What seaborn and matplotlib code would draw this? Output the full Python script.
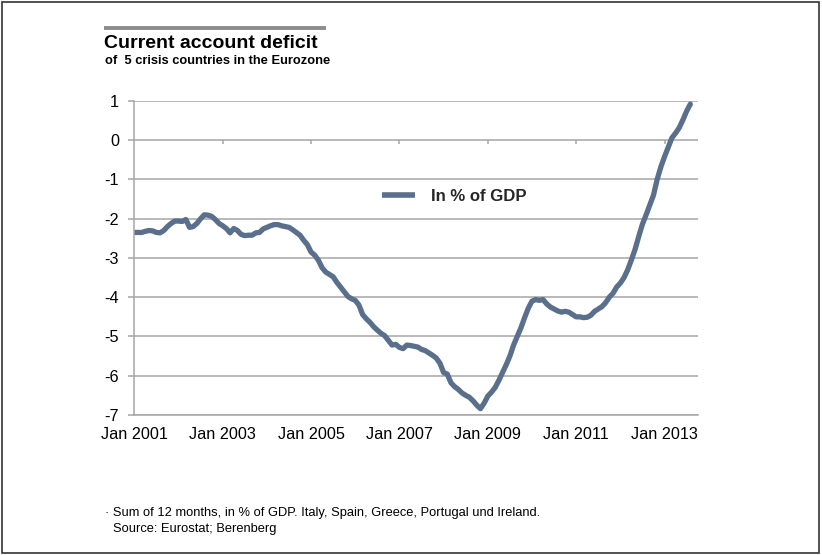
import numpy as np
import pandas as pd
import matplotlib
matplotlib.use("Agg")
import matplotlib.pyplot as plt
from matplotlib.lines import Line2D
from matplotlib.patches import Rectangle
import seaborn as sns

# Monthly current account balance, sum of 12 months, in % of GDP (Jan 2001 onwards)
balance = [
    -2.35, -2.35, -2.35, -2.32, -2.30, -2.31, -2.35, -2.36, -2.30, -2.20, -2.12, -2.06,
    -2.06, -2.07, -2.02, -2.22, -2.20, -2.12, -2.00, -1.90, -1.91, -1.94, -2.02, -2.12,
    -2.18, -2.25, -2.36, -2.25, -2.30, -2.40, -2.43, -2.42, -2.42, -2.36, -2.35, -2.26,
    -2.22, -2.18, -2.15, -2.15, -2.18, -2.20, -2.22, -2.28, -2.35, -2.42, -2.55, -2.66,
    -2.85, -2.93, -3.06, -3.25, -3.36, -3.42, -3.48, -3.62, -3.74, -3.86, -3.98, -4.04,
    -4.08, -4.20, -4.44, -4.55, -4.64, -4.75, -4.84, -4.92, -4.98, -5.10, -5.22, -5.20,
    -5.28, -5.31, -5.22, -5.23, -5.25, -5.27, -5.33, -5.36, -5.42, -5.48, -5.55, -5.68,
    -5.92, -5.96, -6.18, -6.28, -6.35, -6.44, -6.50, -6.55, -6.64, -6.75, -6.84, -6.70,
    -6.52, -6.42, -6.30, -6.12, -5.92, -5.72, -5.50, -5.22, -5.00, -4.78, -4.52, -4.28,
    -4.10, -4.06, -4.08, -4.06, -4.17, -4.25, -4.30, -4.35, -4.38, -4.36, -4.38, -4.44,
    -4.50, -4.50, -4.52, -4.51, -4.46, -4.36, -4.30, -4.24, -4.14, -4.00, -3.90, -3.74,
    -3.64, -3.50, -3.30, -3.05, -2.78, -2.45, -2.14, -1.90, -1.65, -1.40, -1.00, -0.68,
    -0.42, -0.18, 0.06, 0.18, 0.32, 0.52, 0.74, 0.92,
]
months = list(range(len(balance)))  # months since Jan 2001

x_tick_months = [0, 24, 48, 72, 96, 120, 144]
x_tick_labels = ["Jan 2001", "Jan 2003", "Jan 2005", "Jan 2007",
                 "Jan 2009", "Jan 2011", "Jan 2013"]
y_ticks = [-7, -6, -5, -4, -3, -2, -1, 0, 1]

series_name = "In % of GDP"
df = pd.DataFrame({"month": months, "value": balance, "series": series_name})

sns.set_theme(style="white")
plt.rcParams["font.family"] = ["Liberation Sans", "DejaVu Sans"]

LINE = "#596F8B"
GRID = "#A6A6A6"

fig = plt.figure(figsize=(8.22, 5.55), dpi=100)
fig.patch.set_facecolor("white")
ax = fig.add_axes([0.1634, 0.2523, 0.6858, 0.5658])
ax.set_facecolor("white")

sns.lineplot(data=df, x="month", y="value", hue="series", palette=[LINE],
             linewidth=3.8, ax=ax, legend=True)
for ln in ax.lines:
    ln.set_solid_capstyle("round")
    ln.set_solid_joinstyle("round")

ax.set_xlim(0, 153.1)
ax.set_ylim(-7, 1)
ax.set_yticks(y_ticks)
ax.set_yticklabels([str(v) for v in y_ticks])
ax.set_xticks(x_tick_months)
ax.set_xticklabels(x_tick_labels)
ax.set_xlabel("")
ax.set_ylabel("")

# horizontal gridlines
ax.yaxis.grid(True, color=GRID, linewidth=1.1)
ax.xaxis.grid(False)
ax.set_axisbelow(True)

for side in ["top", "right"]:
    ax.spines[side].set_visible(False)
for side in ["left", "bottom"]:
    ax.spines[side].set_color(GRID)
    ax.spines[side].set_linewidth(1.1)

ax.tick_params(axis="y", which="major", left=True, length=4, width=1.1,
               color=GRID, pad=7, labelsize=11.7, labelcolor="black")
ax.tick_params(axis="x", which="major", bottom=False, length=0,
               pad=9, labelsize=11.7, labelcolor="black")

# category tick marks sit on the zero line
ax.vlines(x_tick_months[1:], -0.09, 0, color=GRID, linewidth=1.1, zorder=1)

leg = ax.legend(loc="center left", bbox_to_anchor=(0.439, 0.697), frameon=False,
                borderpad=0, borderaxespad=0, handlelength=2.0, handletextpad=0.9,
                prop={"size": 12.1, "weight": "bold"})
for h in leg.legend_handles:
    h.set_linewidth(4.0)
    h.set_solid_capstyle("butt")

# title block
fig.add_artist(Line2D([104 / 822, 326 / 822], [1 - 28 / 555, 1 - 28 / 555],
                      color="#8C8C8C", linewidth=2.8, solid_capstyle="butt"))
fig.text(104 / 822, 1 - 47.7 / 555, "Current account deficit", fontsize=14,
         fontweight="bold", va="baseline", ha="left", color="black")
fig.text(104.5 / 822, 1 - 64.3 / 555, "of  5 crisis countries in the Eurozone",
         fontsize=9.3, fontweight="bold", va="baseline", ha="left", color="black")

# footnote
fig.text(105 / 822, 1 - 516 / 555,
         "\u00b7 Sum of 12 months, in % of GDP. Italy, Spain, Greece, Portugal und Ireland.",
         fontsize=9.3, va="baseline", ha="left", color="black")
fig.text(113 / 822, 1 - 531.7 / 555, "Source: Eurostat; Berenberg",
         fontsize=9.3, va="baseline", ha="left", color="black")

# outer frame
fig.add_artist(Rectangle((2 / 822, 1 - 552.5 / 555), 817 / 822, 550.5 / 555,
                         transform=fig.transFigure, fill=False,
                         edgecolor="#333333", linewidth=1.2))

fig.savefig("out.png", dpi=100, facecolor="white")
